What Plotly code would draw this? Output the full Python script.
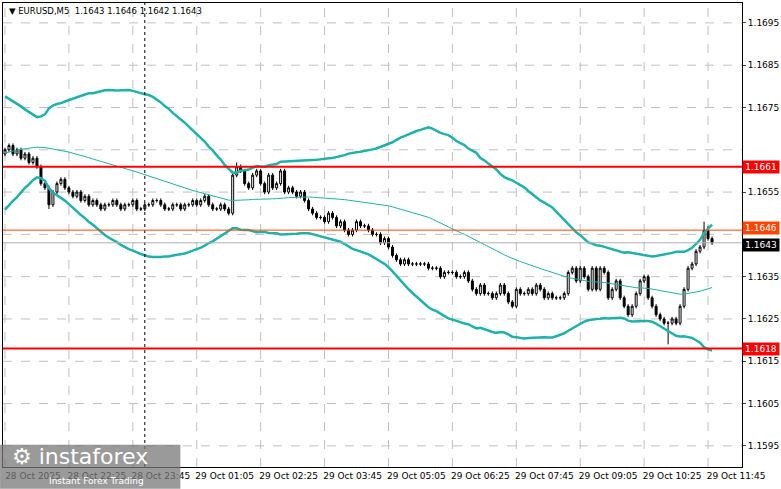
import plotly.graph_objects as go
import numpy as np

# warm-up closes before the visible window (used only for indicators)
history_closes = [1.1654,1.1653,1.1654,1.1655,1.1654,1.1655,1.1656,1.1656,1.1657,1.1658,
                  1.1659,1.1661,1.1663,1.1664,1.1666,1.1665,1.1667,1.1668,1.1666,1.1665,
                  1.1667,1.1668,1.1669,1.1667,1.1666,1.1665,1.1667,1.1668,1.1666,1.1665,
                  1.1664,1.1665,1.1666,1.1667,1.1668,1.1666,1.1665,1.1667,1.1668,1.1669,
                  1.1670,1.1668,1.1669,1.1667,1.1668,1.1666,1.1667,1.1666,1.1665,1.1666]

closes = [1.1665,1.1666,1.1664,1.1665,1.1663,1.1664,1.1662,1.1663,1.1661,
          1.1657,1.1656,1.1652,1.1655,
          1.1657,1.1658,1.1656,1.1655,
          1.1654,1.1655,1.1653,1.1654,1.1652,1.1653,
          1.1652,1.1651,1.1652,1.1652,1.1653,1.1652,1.1651,1.1652,1.1652,1.1653,1.1651,1.1651,1.1652,
          1.1652,1.1653,1.1653,1.1652,1.1651,1.1651,1.1652,1.1652,1.1651,1.1652,1.1652,1.1653,1.1652,1.1653,1.1654,1.1652,1.1651,1.1651,1.1652,1.1651,1.1650,
          1.1659,
          1.1661,1.1660,1.1657,1.1656,1.1659,1.1660,1.1657,1.1655,1.1659,1.1656,1.1657,1.1660,1.1655,
          1.1656,1.1655,1.1654,1.1655,1.1653,1.1651,
          1.1650,1.1649,1.1649,1.1648,1.1650,1.1649,1.1647,1.1648,1.1646,
          1.1645,1.1646,1.1648,1.1647,1.1647,1.1646,1.1645,1.1645,1.1643,1.1644,1.1642,1.1640,1.1639,1.1638,1.1639,1.1638,1.1638,1.1638,1.1638,
          1.1638,1.1637,1.1637,1.1637,1.1635,1.1636,1.1636,1.1636,1.1635,1.1635,1.1636,
          1.1634,1.1632,1.1631,1.1633,1.1631,1.1631,1.1630,1.1631,1.1633,1.1631,1.1629,1.1628,1.1632,1.1631,1.1631,1.1632,1.1631,1.1633,1.1632,1.1630,1.1631,1.1630,1.1630,1.1630,1.1631,
          1.1636,1.1637,1.1634,1.1637,1.1635,1.1632,1.1637,1.1632,1.1637,1.1636,
          1.1630,1.1632,1.1634,1.1630,1.1628,1.1626,1.1628,1.1631,1.1634,1.1635,
          1.1630,1.1628,1.1626,1.1625,1.1624,1.1624,1.1625,1.1624,
          1.1628,1.1632,1.1637,1.1638,1.1641,1.1642,1.1646,1.1644,1.1643]
first_open = 1.1664
wick = 0.00005
high_override = {175: 1.1648, 176: 1.1647, 57: 1.1660, 58: 1.1662}
low_override = {166: 1.1619, 11: 1.1651}

tick_idx = [0,16,32,48,64,80,96,112,128,144,160,176]
tick_text = ["28 Oct 2025","28 Oct 22:25","28 Oct 23:45","29 Oct 01:05","29 Oct 02:25",
             "29 Oct 03:45","29 Oct 05:05","29 Oct 06:25","29 Oct 07:45","29 Oct 09:05",
             "29 Oct 10:25","29 Oct 11:45"]
price_ticks = [1.1695,1.1685,1.1675,1.1655,1.1635,1.1625,1.1615,1.1605,1.1595]
grid_prices = [1.1695,1.1685,1.1675,1.1665,1.1655,1.1645,1.1635,1.1625,1.1615,1.1605,1.1595]
resistance, support, ask, bid = 1.1661, 1.1618, 1.1646, 1.1643
bb_period, bb_dev = 50, 2.9

n = len(closes)
opens = [first_open] + closes[:-1]
highs = [high_override.get(i, max(o, c) + wick) for i, (o, c) in enumerate(zip(opens, closes))]
lows = [low_override.get(i, min(o, c) - wick) for i, (o, c) in enumerate(zip(opens, closes))]
x = list(range(n))

allc = np.array(history_closes + closes)
h = len(history_closes)
mid = np.array([allc[i-bb_period+1:i+1].mean() for i in range(h, h+n)])
sd = np.array([allc[i-bb_period+1:i+1].std() for i in range(h, h+n)])
upper, lower = mid + bb_dev*sd, mid - bb_dev*sd

teal = "#20B2AA"
fig = go.Figure()
fig.add_trace(go.Scatter(x=x, y=upper, mode="lines", line=dict(color=teal, width=2.5), hoverinfo="skip"))
fig.add_trace(go.Scatter(x=x, y=lower, mode="lines", line=dict(color=teal, width=2.5), hoverinfo="skip"))
fig.add_trace(go.Scatter(x=x, y=mid, mode="lines", line=dict(color=teal, width=1), hoverinfo="skip"))
fig.add_trace(go.Candlestick(x=x, open=opens, high=highs, low=lows, close=closes,
    increasing=dict(fillcolor="white", line=dict(color="black", width=1)),
    decreasing=dict(fillcolor="black", line=dict(color="black", width=1)),
    whiskerwidth=0))

for gp in grid_prices:
    fig.add_hline(y=gp, line=dict(color="#c0c0c0", width=1, dash="dash"), layer="below")
for ti in tick_idx:
    fig.add_vline(x=ti, line=dict(color="#c0c0c0", width=1, dash="dash"), layer="below")
fig.add_vline(x=35, line=dict(color="black", width=1, dash="dot"))
fig.add_hline(y=bid, line=dict(color="#b0b0b0", width=1))
fig.add_hline(y=ask, line=dict(color="#ff4500", width=1))
fig.add_hline(y=resistance, line=dict(color="red", width=2))
fig.add_hline(y=support, line=dict(color="red", width=2))

def tag(y, txt, bg, yshift=0):
    fig.add_annotation(x=1.0, xref="paper", y=y, yref="y", text=txt, showarrow=False,
                       xanchor="left", yshift=yshift, bgcolor=bg, font=dict(color="white", size=9, family="DejaVu Sans"),
                       borderpad=1, width=34)
tag(resistance, "1.1661", "red")
tag(ask, "1.1646", "#ff4500", 2)
tag(bid, "1.1643", "black", -2)
tag(support, "1.1618", "red")

fig.add_annotation(x=0.005, xref="paper", y=0.997, yref="paper", xanchor="left", yanchor="top",
                   text="▼ EURUSD,M5  1.1643 1.1646 1.1642 1.1643", showarrow=False,
                   font=dict(size=8.5, family="DejaVu Sans", color="black"))
fig.add_shape(type="rect", xref="paper", yref="paper", x0=-0.004, x1=0.24, y0=-0.047, y1=0.048,
              fillcolor="rgba(120,120,120,0.75)", line=dict(width=0))
fig.add_annotation(x=0.01, xref="paper", y=0.022, yref="paper", xanchor="left", yanchor="middle",
                   text="⚙ instaforex", showarrow=False, font=dict(size=22, color="white", family="DejaVu Sans"))
fig.add_annotation(x=0.06, xref="paper", y=-0.03, yref="paper", xanchor="left", yanchor="middle",
                   text="Instant Forex Trading", showarrow=False, font=dict(size=9, color="white", family="DejaVu Sans"))

fig.update_layout(width=781, height=489, margin=dict(l=3, r=39, t=3, b=22, autoexpand=False),
                  paper_bgcolor="white", plot_bgcolor="white", showlegend=False,
                  xaxis=dict(range=[-0.5, 184.5], tickvals=[t + 7 for t in tick_idx], ticktext=tick_text, showgrid=False,
                             rangeslider=dict(visible=False), showline=True, linecolor="black", mirror=True,
                             ticks="", tickfont=dict(size=9, family="DejaVu Sans", color="black"), zeroline=False),
                  yaxis=dict(range=[1.15900, 1.16997], side="right", tickvals=price_ticks,
                             ticktext=[f"{p:.4f}" for p in price_ticks], showgrid=False,
                             showline=True, linecolor="black", mirror=True, ticks="outside", ticklen=3,
                             tickfont=dict(size=9, family="DejaVu Sans", color="black"), zeroline=False))
fig.write_html("out.html", config={"displayModeBar": False},
               post_script="document.body.style.margin='0';document.body.style.overflow='hidden';")
